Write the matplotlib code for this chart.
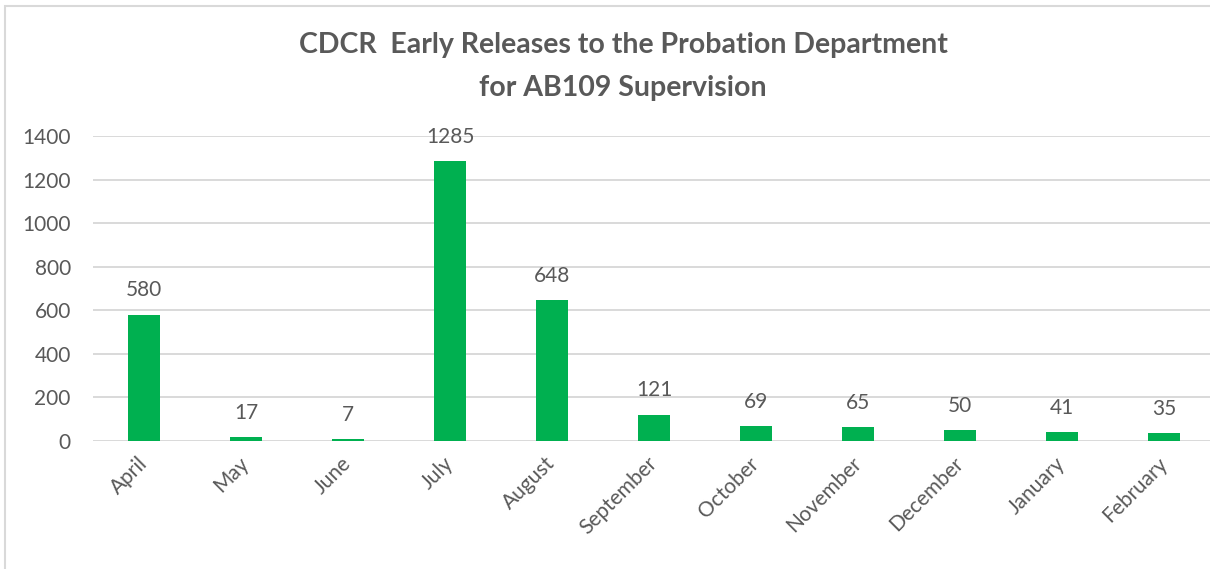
import matplotlib.pyplot as plt
from matplotlib.patches import Rectangle

months = ["April", "May", "June", "July", "August", "September",
          "October", "November", "December", "January", "February"]
releases = [580, 17, 7, 1285, 648, 121, 69, 65, 50, 41, 35]
y_ticks = [0, 200, 400, 600, 800, 1000, 1200, 1400]

text_gray = "#595959"
grid_gray = "#D9D9D9"
bar_green = "#00B050"

plt.rcParams["font.family"] = ["Lato", "DejaVu Sans"]

fig = plt.figure(figsize=(12.10, 5.69), dpi=100)
# plot area runs off the right edge, as in the cropped screenshot
ax = fig.add_axes([93 / 1210, 128 / 569, 1122 / 1210, 305 / 569])

x = list(range(len(months)))
ax.bar(x, releases, width=0.31, color=bar_green, zorder=3)

for xi, v in zip(x, releases):
    ax.annotate(str(v), (xi, v), xytext=(0, 17.5), textcoords="offset points",
                ha="center", va="center", fontsize=15, color=text_gray)

ax.set_xlim(-0.5, len(months) - 0.5)
ax.set_ylim(0, 1400)
ax.set_yticks(y_ticks)
ax.set_xticks(x)
ax.set_xticklabels(months, rotation=45, ha="right", va="center",
                   rotation_mode="anchor")
ax.tick_params(axis="y", length=0, pad=16, labelsize=15, labelcolor=text_gray)
ax.tick_params(axis="x", length=0, pad=14, labelsize=15, labelcolor=text_gray)
ax.grid(axis="y", color=grid_gray, linewidth=1.4, zorder=0)
for s in ax.spines.values():
    s.set_visible(False)

title_x = 623 / 1210
fig.text(title_x, 1 - 45 / 569, "CDCR  Early Releases to the Probation Department",
         ha="center", va="center", fontsize=20.5, fontweight="bold", color=text_gray)
fig.text(title_x, 1 - 88 / 569, "for AB109 Supervision",
         ha="center", va="center", fontsize=20.5, fontweight="bold", color=text_gray)

# chart frame, cut off on the right and bottom
fig.patches.append(Rectangle((5 / 1210, -0.1), 1.1, 1 - 6 / 569 + 0.1,
                             transform=fig.transFigure, fill=False,
                             edgecolor=grid_gray, linewidth=1.5))

fig.savefig("out.png", dpi=100)
